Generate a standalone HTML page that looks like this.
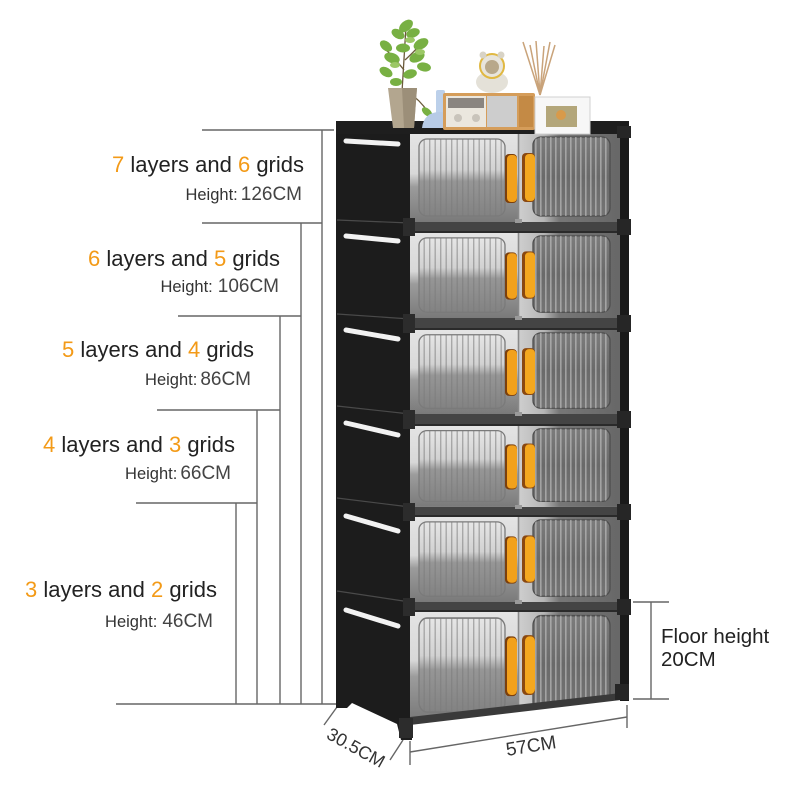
<!DOCTYPE html>
<html><head><meta charset="utf-8">
<style>
html,body{margin:0;padding:0;background:#fff;}
svg{display:block;}
.t{font-family:"Liberation Sans",Arial,sans-serif;}
</style></head>
<body>
<svg width="800" height="800" viewBox="0 0 800 800" xmlns="http://www.w3.org/2000/svg">
<defs>
  <linearGradient id="gLbg" x1="0" y1="0" x2="0" y2="1">
    <stop offset="0" stop-color="#e4e4e4"/>
    <stop offset="0.45" stop-color="#d8d8d8"/>
    <stop offset="0.6" stop-color="#9c9c9c"/>
    <stop offset="1" stop-color="#7a7a7a"/>
  </linearGradient>
  <linearGradient id="gRbg" x1="0" y1="0" x2="1" y2="0">
    <stop offset="0" stop-color="#cfcfcf"/>
    <stop offset="0.25" stop-color="#b6b6b6"/>
    <stop offset="0.4" stop-color="#777"/>
    <stop offset="1" stop-color="#676767"/>
  </linearGradient>
  <linearGradient id="gLwin" x1="0" y1="0" x2="0" y2="1">
    <stop offset="0" stop-color="#e6e6e6"/>
    <stop offset="0.4" stop-color="#d2d2d2"/>
    <stop offset="0.55" stop-color="#969696"/>
    <stop offset="1" stop-color="#828282"/>
  </linearGradient>
  <linearGradient id="gRwin" x1="0" y1="0" x2="0" y2="1">
    <stop offset="0" stop-color="#7c7c7c"/>
    <stop offset="0.5" stop-color="#6a6a6a"/>
    <stop offset="1" stop-color="#747474"/>
  </linearGradient>
  <pattern id="stL" width="5.5" height="10" patternUnits="userSpaceOnUse">
    <rect x="0" y="0" width="1.4" height="10" fill="#7a7a7a" opacity="0.55"/>
  </pattern>
  <pattern id="stR" width="5" height="10" patternUnits="userSpaceOnUse">
    <rect x="0" y="0" width="1.6" height="10" fill="#c4c4c4" opacity="0.6"/>
  </pattern>
  <g id="lay">
    <rect x="410" y="0" width="108" height="88" fill="url(#gLbg)"/>
    <rect x="518" y="0" width="103" height="88" fill="url(#gRbg)"/>
    <rect x="419" y="5" width="86" height="77" rx="8" fill="url(#gLwin)" stroke="#7a7a7a" stroke-width="1.3"/>
    <rect x="419" y="5" width="86" height="77" rx="8" fill="url(#stL)"/>
    <rect x="533" y="3" width="77" height="79" rx="8" fill="url(#gRwin)" stroke="#4e4e4e" stroke-width="1.3"/>
    <rect x="533" y="3" width="77" height="79" rx="8" fill="url(#stR)"/>
    <line x1="518.5" y1="0" x2="518.5" y2="88" stroke="#8a8a8a" stroke-width="1.6"/>
    <rect x="505" y="20" width="12" height="49" rx="4" fill="#7b3f0c"/>
    <rect x="507" y="21" width="10" height="47" rx="4" fill="#f2a11c"/>
    <rect x="522" y="19" width="13" height="49" rx="4" fill="#8a4810"/>
    <rect x="525" y="20" width="10" height="47" rx="4" fill="#f4a81f"/>
  </g>
  <clipPath id="clip6"><polygon points="410,612 621,612 621,697 410,721"/></clipPath>
</defs>

<rect width="800" height="800" fill="#fff"/>

<!-- dimension lines left -->
<g stroke="#666" stroke-width="1.4" fill="none">
  <line x1="202" y1="130" x2="334" y2="130"/>
  <line x1="322" y1="130" x2="322" y2="704"/>
  <line x1="202" y1="223" x2="322" y2="223"/>
  <line x1="301" y1="223" x2="301" y2="704"/>
  <line x1="178" y1="316" x2="301" y2="316"/>
  <line x1="280" y1="316" x2="280" y2="704"/>
  <line x1="157" y1="410" x2="280" y2="410"/>
  <line x1="257" y1="410" x2="257" y2="704"/>
  <line x1="136" y1="503" x2="257" y2="503"/>
  <line x1="236" y1="503" x2="236" y2="704"/>
  <line x1="116" y1="704" x2="337" y2="704"/>
  <line x1="633" y1="602" x2="669" y2="602"/>
  <line x1="651" y1="602" x2="651" y2="699"/>
  <line x1="633" y1="699" x2="669" y2="699"/>
  <line x1="337" y1="707" x2="324" y2="725"/>
  <line x1="403" y1="740" x2="390" y2="760"/>
  <line x1="410" y1="741" x2="410" y2="765"/>
  <line x1="410" y1="752" x2="627" y2="717"/>
  <line x1="627" y1="705" x2="627" y2="728"/>
</g>

<!-- text labels -->
<g class="t">
  <text x="304" y="172" text-anchor="end" font-size="22" fill="#222"><tspan fill="#f39a17">7</tspan> layers and <tspan fill="#f39a17">6</tspan> grids</text>
  <text x="302" y="200" text-anchor="end" fill="#333"><tspan font-size="16.5">Height:</tspan><tspan font-size="19" fill="#444" dx="3">126CM</tspan></text>

  <text x="280" y="266" text-anchor="end" font-size="22" fill="#222"><tspan fill="#f39a17">6</tspan> layers and <tspan fill="#f39a17">5</tspan> grids</text>
  <text x="279" y="292" text-anchor="end" fill="#333"><tspan font-size="16.5">Height:</tspan><tspan font-size="19" fill="#444" dx="5">106CM</tspan></text>

  <text x="254" y="357" text-anchor="end" font-size="22" fill="#222"><tspan fill="#f39a17">5</tspan> layers and <tspan fill="#f39a17">4</tspan> grids</text>
  <text x="251" y="385" text-anchor="end" fill="#333"><tspan font-size="16.5">Height:</tspan><tspan font-size="19" fill="#444" dx="3">86CM</tspan></text>

  <text x="235" y="452" text-anchor="end" font-size="22" fill="#222"><tspan fill="#f39a17">4</tspan> layers and <tspan fill="#f39a17">3</tspan> grids</text>
  <text x="231" y="479" text-anchor="end" fill="#333"><tspan font-size="16.5">Height:</tspan><tspan font-size="19" fill="#444" dx="3">66CM</tspan></text>

  <text x="217" y="597" text-anchor="end" font-size="22" fill="#222"><tspan fill="#f39a17">3</tspan> layers and <tspan fill="#f39a17">2</tspan> grids</text>
  <text x="213" y="627" text-anchor="end" fill="#333"><tspan font-size="16.5">Height:</tspan><tspan font-size="19" fill="#444" dx="5">46CM</tspan></text>

  <text x="661" y="643" font-size="20.5" fill="#222">Floor height</text>
  <text x="661" y="666" font-size="20.5" fill="#222">20CM</text>

  <text x="353" y="753" text-anchor="middle" font-size="18" fill="#333" transform="rotate(29 353 753)">30.5CM</text>
  <text x="532" y="752" text-anchor="middle" font-size="19" fill="#333" transform="rotate(-9 532 752)">57CM</text>
</g>

<!-- side panel -->
<polygon points="336,123 412,126 412,740 401,740 397,724 352,703 347,708 336,708" fill="#1c1c1c"/>
<g stroke="#4a4a4a" stroke-width="1.2">
  <line x1="337" y1="220" x2="410" y2="223"/>
  <line x1="337" y1="314" x2="410" y2="319"/>
  <line x1="337" y1="406" x2="410" y2="414"/>
  <line x1="337" y1="498" x2="410" y2="507"/>
  <line x1="337" y1="591" x2="410" y2="602"/>
</g>
<g stroke="#f2f2f2" stroke-width="5" stroke-linecap="round">
  <line x1="346" y1="141" x2="398" y2="144"/>
  <line x1="346" y1="236" x2="398" y2="241"/>
  <line x1="346" y1="330" x2="398" y2="339"/>
  <line x1="346" y1="423" x2="398" y2="435"/>
  <line x1="346" y1="516" x2="398" y2="531"/>
  <line x1="346" y1="610" x2="398" y2="626"/>
</g>

<!-- front layers -->
<use href="#lay" transform="translate(0,134)"/>
<use href="#lay" transform="translate(0,233) scale(1,0.966)"/>
<use href="#lay" transform="translate(0,330) scale(1,0.955)"/>
<use href="#lay" transform="translate(0,426) scale(1,0.92)"/>
<use href="#lay" transform="translate(0,517) scale(1,0.966)"/>
<g clip-path="url(#clip6)">
  <use href="#lay" transform="translate(0,612) scale(1,1.22)"/>
</g>
<polygon points="410,717 621,693 621,700 410,725" fill="#3a3a3a"/>

<!-- bands -->
<rect x="336" y="121" width="293" height="13" fill="#1e1e1e"/>
<g fill="#444">
  <rect x="410" y="222" width="211" height="11"/>
  <rect x="410" y="318" width="211" height="12"/>
  <rect x="410" y="414" width="211" height="12"/>
  <rect x="410" y="507" width="211" height="10"/>
  <rect x="410" y="602" width="211" height="10"/>
</g>
<g fill="#2a2a2a">
  <rect x="410" y="231" width="211" height="2"/>
  <rect x="410" y="328" width="211" height="2"/>
  <rect x="410" y="424" width="211" height="2"/>
  <rect x="410" y="515" width="211" height="2"/>
  <rect x="410" y="610" width="211" height="2"/>
</g>

<!-- right post -->
<rect x="620" y="122" width="9" height="579" fill="#1a1a1a"/>
<g fill="#262626">
  <rect x="617" y="126" width="14" height="12"/>
  <rect x="617" y="219" width="14" height="16"/>
  <rect x="617" y="315" width="14" height="17"/>
  <rect x="617" y="411" width="14" height="17"/>
  <rect x="617" y="504" width="14" height="16"/>
  <rect x="617" y="599" width="14" height="16"/>
  <rect x="615" y="684" width="14" height="16"/>
</g>
<!-- left front connectors -->
<g fill="#2c2c2c">
  <rect x="403" y="218" width="12" height="18"/>
  <rect x="403" y="314" width="12" height="19"/>
  <rect x="403" y="410" width="12" height="19"/>
  <rect x="403" y="503" width="12" height="18"/>
  <rect x="403" y="598" width="12" height="18"/>
  <rect x="399" y="718" width="14" height="20"/>
</g>
<g fill="#9a9a9a">
  <rect x="515" y="219" width="7" height="4"/>
  <rect x="515" y="316" width="7" height="4"/>
  <rect x="515" y="412" width="7" height="4"/>
  <rect x="515" y="505" width="7" height="4"/>
  <rect x="515" y="600" width="7" height="4"/>
</g>

<!-- decor on top -->
<g stroke="#6b5a3a" stroke-width="1.3" fill="none">
  <path d="M402,92 Q404,60 406,26"/>
  <path d="M404,70 Q392,55 386,50"/>
  <path d="M405,60 Q418,48 422,42"/>
  <path d="M408,92 Q420,100 428,112"/>
</g>
<g fill="#78b043">
  <ellipse cx="406" cy="26" rx="8" ry="5" transform="rotate(-40 406 26)"/>
  <ellipse cx="398" cy="34" rx="7" ry="4.5" transform="rotate(30 398 34)"/>
  <ellipse cx="413" cy="33" rx="7" ry="4.5" transform="rotate(-20 413 33)"/>
  <ellipse cx="386" cy="46" rx="7" ry="4.5" transform="rotate(40 386 46)"/>
  <ellipse cx="421" cy="44" rx="8" ry="5" transform="rotate(-30 421 44)"/>
  <ellipse cx="403" cy="48" rx="7" ry="4.5"/>
  <ellipse cx="392" cy="58" rx="8" ry="5" transform="rotate(20 392 58)"/>
  <ellipse cx="417" cy="57" rx="8" ry="5" transform="rotate(-25 417 57)"/>
  <ellipse cx="424" cy="67" rx="7" ry="4.5" transform="rotate(10 424 67)"/>
  <ellipse cx="386" cy="72" rx="7" ry="4.5" transform="rotate(30 386 72)"/>
  <ellipse cx="410" cy="74" rx="7" ry="4.5" transform="rotate(-15 410 74)"/>
  <ellipse cx="396" cy="82" rx="6" ry="4"/>
  <ellipse cx="427" cy="112" rx="6" ry="3.5" transform="rotate(40 427 112)"/>
</g>
<g fill="#9cc866">
  <ellipse cx="410" cy="40" rx="5" ry="3"/>
  <ellipse cx="395" cy="65" rx="5" ry="3"/>
  <ellipse cx="420" cy="52" rx="5" ry="3"/>
</g>
<polygon points="388,88 417,88 414,128 393,128" fill="#b3a68f"/>
<polygon points="402,88 417,88 414,128 404,128" fill="#9c8f79"/>
<rect x="436" y="90" width="9" height="24" rx="2" fill="#bcd0ea"/>
<path d="M422,128 Q424,112 440,112 Q456,112 458,128 Z" fill="#b7cbe6"/>
<rect x="443" y="93" width="92" height="37" rx="2" fill="#d59d5a"/>
<rect x="446" y="96" width="40" height="31" fill="#ebe7de"/>
<rect x="448" y="98" width="36" height="10" fill="#8a8580"/>
<circle cx="458" cy="118" r="4" fill="#c9c4bb"/>
<circle cx="476" cy="118" r="4" fill="#c9c4bb"/>
<rect x="487" y="96" width="30" height="31" fill="#cdcdcd"/>
<rect x="519" y="96" width="14" height="31" fill="#c48a45"/>
<ellipse cx="492" cy="82" rx="16" ry="11" fill="#e4e1d8"/>
<circle cx="492" cy="66" r="12" fill="#e8e5dc" stroke="#e0b842" stroke-width="2"/>
<circle cx="492" cy="67" r="7" fill="#b8a88a"/>
<circle cx="483" cy="55" r="3.5" fill="#d8d3c6"/>
<circle cx="501" cy="55" r="3.5" fill="#d8d3c6"/>
<g stroke="#c9a37a" stroke-width="1.5">
  <line x1="540" y1="95" x2="523" y2="42"/>
  <line x1="540" y1="95" x2="530" y2="45"/>
  <line x1="540" y1="95" x2="536" y2="41"/>
  <line x1="540" y1="95" x2="544" y2="46"/>
  <line x1="540" y1="95" x2="550" y2="42"/>
  <line x1="540" y1="95" x2="555" y2="45"/>
</g>
<rect x="535" y="97" width="55" height="37" fill="#f7f7f7" stroke="#d0d0d0" stroke-width="1"/>
<rect x="546" y="106" width="31" height="21" fill="#b3a67a"/>
<circle cx="561" cy="115" r="5" fill="#d89a4a"/>
</svg>
</body></html>
